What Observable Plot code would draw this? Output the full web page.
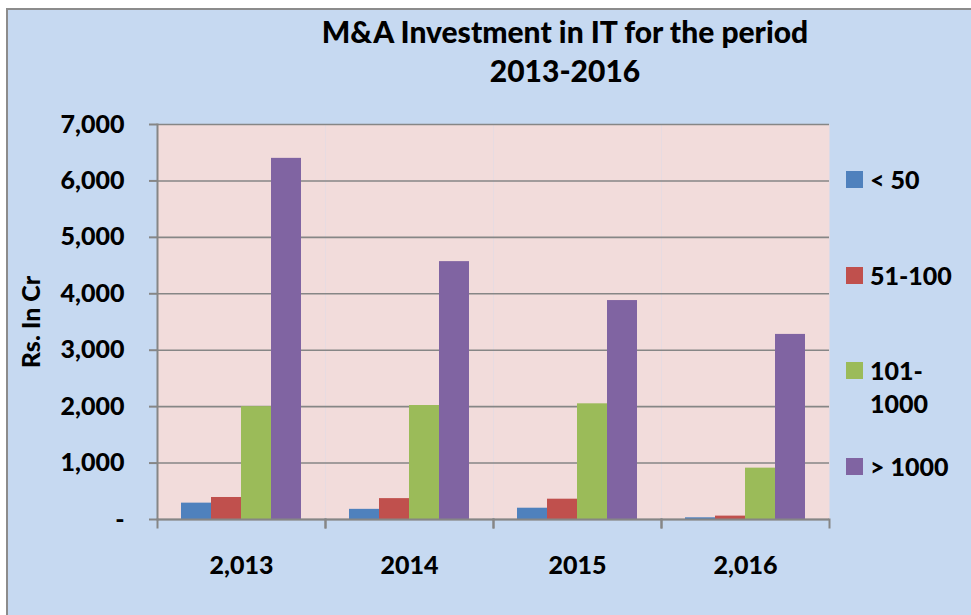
<!DOCTYPE html>
<html>
<head>
<meta charset="utf-8">
<script src="https://cdn.jsdelivr.net/npm/d3@7"></script>
<script src="https://cdn.jsdelivr.net/npm/@observablehq/plot@0.6"></script>
<style>
  html, body { margin: 0; padding: 0; width: 971px; height: 615px; overflow: hidden; background: #ffffff; }
  #box { position: absolute; left: 6px; top: 8px; width: 965px; height: 607px; background: #c6d9f1;
         border-left: 2px solid #8c8c8c; border-top: 2px solid #8c8c8c; box-sizing: border-box; }
  #chart { position: absolute; left: 0; top: 0; }
  #title { position: absolute; left: 300px; width: 530px; top: 12px; text-align: center;
           font-family: Lato, sans-serif; font-weight: 900; font-size: 30px; line-height: 39px; color: #000; }
  #ylabel { position: absolute; left: 30px; top: 322px; transform: translate(-50%, -50%) rotate(-90deg);
            font-family: Lato, sans-serif; font-weight: 900; font-size: 25px; white-space: nowrap; color: #000; }
  .item { position: absolute; left: 846px; display: flex; align-items: flex-start;
          font-family: Lato, sans-serif; font-weight: 900; font-size: 25px; line-height: 33px; color: #000; }
  .sw { width: 17px; height: 17px; margin-top: 8px; margin-right: 7px; flex: none; }
  .lab { width: 92px; }
</style>
</head>
<body>
<div id="box"></div>
<div id="chart"></div>
<div id="title">M&amp;A Investment in IT for the period<br>2013-2016</div>
<div id="ylabel">Rs. In Cr</div>
<div id="legend"></div>
<script>
// ---- data ----
const categories = ["2013", "2014", "2015", "2016"];
const categoryLabels = ["2,013", "2014", "2015", "2,016"];
const seriesNames = ["< 50", "51-100", "101-1000", "> 1000"];
const seriesColors = ["#4f81bd", "#c0504d", "#9bbb59", "#8064a2"];
const valuesLt50 = [290, 180, 200, 30];
const values51to100 = [390, 370, 360, 60];
const values101to1000 = [2000, 2020, 2050, 910];
const valuesGt1000 = [6400, 4570, 3880, 3280];
const yTicks = [0, 1000, 2000, 3000, 4000, 5000, 6000, 7000];
const yTickLabels = ["-", "1,000", "2,000", "3,000", "4,000", "5,000", "6,000", "7,000"];

const seriesValues = [valuesLt50, values51to100, values101to1000, valuesGt1000];
const table = [];
categories.forEach((c, ci) => {
  seriesNames.forEach((s, si) => table.push({year: c, series: s, value: seriesValues[si][ci]}));
});

// ---- layout ----
const W = 971, H = 615;
const mTop = 124, mBottom = 96, mLeft = 155, mRight = 141;
const plotH = H - mTop - mBottom;
const gridColor = "#868686";

const chart = Plot.plot({
  width: W, height: H,
  marginTop: mTop, marginBottom: mBottom, marginLeft: mLeft, marginRight: mRight,
  style: {background: "transparent", fontFamily: "Lato, sans-serif", fontSize: "25px", fontWeight: "900", color: "#000", overflow: "visible"},
  fx: {domain: categories, padding: 0, label: null},
  x: {domain: seriesNames, paddingInner: 0, paddingOuter: 0.75, axis: null},
  y: {domain: [0, 7000], label: null},
  color: {domain: seriesNames, range: seriesColors},
  marks: [
    Plot.frame({fill: "#f2dcdb", stroke: null}),
    Plot.gridY(yTicks, {stroke: gridColor, strokeOpacity: 1, strokeWidth: 1.6}),
    Plot.barY(table, {fx: "year", x: "series", y: "value", fill: "series"}),
    Plot.ruleY([0], {stroke: gridColor, strokeWidth: 2}),
    Plot.frame({anchor: "left", facetAnchor: "left", stroke: gridColor, strokeWidth: 2}),
    Plot.frame({anchor: "left", insetTop: plotH, insetBottom: -8, stroke: gridColor, strokeWidth: 2}),
    Plot.frame({anchor: "right", insetTop: plotH, insetBottom: -8, stroke: gridColor, strokeWidth: 2}),
    Plot.axisY({ticks: yTicks, tickSize: 8, tickFormat: () => "", color: gridColor, strokeWidth: 2}),
    Plot.axisY({ticks: yTicks, tickSize: 0, tickPadding: 33, tickFormat: d => yTickLabels[yTicks.indexOf(d)], fill: "#000", label: null}),
    Plot.axisFx({anchor: "bottom", tickSize: 0, tickPadding: 37, tickFormat: d => categoryLabels[categories.indexOf(d)], label: null, fill: "#000"})
  ]
});
document.getElementById("chart").appendChild(chart);

// ---- legend ----
const legend = document.getElementById("legend");
seriesNames.forEach((s, i) => {
  const item = document.createElement("div");
  item.className = "item";
  item.style.top = (163 + i * 95.5) + "px";
  const sw = document.createElement("div");
  sw.className = "sw";
  sw.style.background = seriesColors[i];
  const lab = document.createElement("div");
  lab.className = "lab";
  lab.textContent = s;
  item.appendChild(sw);
  item.appendChild(lab);
  legend.appendChild(item);
});
</script>
</body>
</html>
